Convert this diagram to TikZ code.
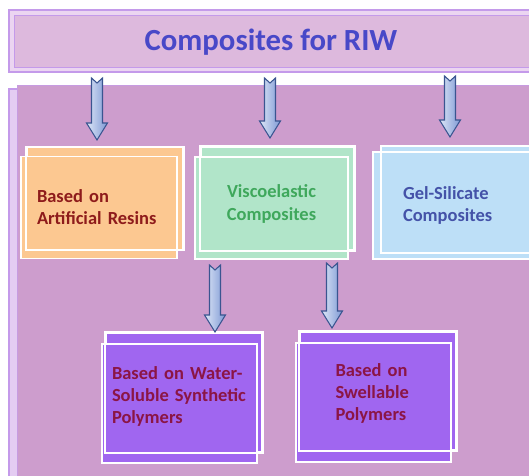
\documentclass[tikz,border=0pt]{standalone}
\usepackage{fontspec}
\setmainfont{Carlito}
\usetikzlibrary{calc}

\definecolor{titleback}{HTML}{EBD5F1}
\definecolor{titlefill}{HTML}{DDB9DD}
\definecolor{bandline}{HTML}{C49AEA}
\definecolor{panelback}{HTML}{E4CCF2}
\definecolor{panelfill}{HTML}{CD9DCD}
\definecolor{orangefill}{HTML}{FCC891}
\definecolor{greenfill}{HTML}{B1E5C9}
\definecolor{gelfill}{HTML}{BDDFF7}
\definecolor{violetfill}{HTML}{A066F0}
\definecolor{titleblue}{HTML}{4848C8}
\definecolor{resinred}{HTML}{8E1B1B}
\definecolor{viscogreen}{HTML}{3FA85C}
\definecolor{gelblue}{HTML}{4452A8}
\definecolor{polyred}{HTML}{8B1545}
\definecolor{arrowlight}{HTML}{DDE6F7}
\definecolor{arrowdark}{HTML}{7D98D4}
\definecolor{arrowline}{HTML}{3A5590}

% hollow block arrow from top coordinate #1 down to tip #2
\newcommand{\blockarrow}[2]{%
	\path[barrow] let \p1=(#1), \p2=(#2) in
		(\x1-0.11cm,\y1) -- (\x1,\y1-0.1cm) -- (\x1+0.11cm,\y1)
		-- (\x1+0.11cm,\y2+0.34cm) -- (\x1+0.21cm,\y2+0.34cm) -- (\x2,\y2)
		-- (\x1-0.21cm,\y2+0.34cm) -- (\x1-0.11cm,\y2+0.34cm) -- cycle;}

\begin{document}
\begin{tikzpicture}[x=0.02cm,y=-0.02cm]
	%\draw[help lines] (0,0) grid (529,476);
	
	\tikzstyle{cbox} = [rectangle,draw=white,line width=0.9pt,inner sep=0pt,font=\fontsize{10.5}{12.6}\selectfont\bfseries]
	\tikzstyle{bframe} = [draw=white,line width=0.9pt]
	\tikzstyle{barrow} = [draw=arrowline,line width=0.6pt,left color=arrowlight,right color=arrowdark]
	
	\path[use as bounding box,clip] (0,0) rectangle (529,476);
	\fill[white] (0,0) rectangle (529,476);
	
	% title band
	\filldraw[fill=titleback,draw=bandline,line width=0.8pt] (9,10) rectangle (540,72);
	\filldraw[fill=titlefill,draw=bandline,line width=0.5pt] (14,15) rectangle (540,67);
	\node[font=\fontsize{17.5}{20}\selectfont\bfseries,text=titleblue] (title) at (271,42) {Composites for RIW};
	
	% panel
	\filldraw[fill=panelback,draw=bandline,line width=0.6pt] (9,89) rectangle (540,480);
	\filldraw[fill=panelfill,draw=bandline!70!panelfill,line width=0.5pt] (17,85) rectangle (540,480);
	
	% first row
	\node[cbox,fill=orangefill,minimum width=3.12cm,minimum height=2.04cm] (resinsb) at (105,198.5) {};
	\node[cbox,fill=orangefill,minimum width=3.12cm,minimum height=2.04cm,text width=2.48cm,align=left,text=resinred] (resins) at (99,207.5) {Based on\\Artificial Resins};
	\draw[bframe] (resinsb.north west) rectangle (resinsb.south east);
	
	\node[cbox,fill=greenfill,minimum width=3.06cm,minimum height=2.06cm] (viscob) at (277.5,198.5) {};
	\node[cbox,fill=greenfill,minimum width=3.06cm,minimum height=2.04cm,text width=2.6cm,align=center,text depth=0.66cm,text=viscogreen] (visco) at (271.5,208) {Viscoelastic\\Composites};
	\draw[bframe] (viscob.north west) rectangle (viscob.south east);
	
	% gel box runs off the right edge
	\node[cbox,draw=none,fill=gelfill,minimum width=4cm,minimum height=2.1cm] (gelb) at (482,199.5) {};
	\node[cbox,draw=none,fill=gelfill,minimum width=4cm,minimum height=2.1cm,text width=2.84cm,align=left,text=gelblue] (gel) at (474,205.5) {Gel-Silicate\\Composites};
	\draw[bframe] (gel.north east) -- (gel.north west) -- (gel.south west) -- (gel.south east);
	\draw[bframe] (gelb.north east) -- (gelb.north west) -- (gelb.south west) -- (gelb.south east);
	
	% second row
	\node[cbox,fill=violetfill,minimum width=3.12cm,minimum height=2.38cm] (waterb) at (184,392.5) {};
	\node[cbox,fill=violetfill,minimum width=3.1cm,minimum height=2.38cm,text width=2.7cm,align=left,text depth=1.23cm,text=polyred] (water) at (179.5,403.5) {Based on Water-\\Soluble Synthetic\\Polymers};
	\draw[bframe] (waterb.north west) rectangle (waterb.south east);
	
	\node[cbox,fill=violetfill,minimum width=3.12cm,minimum height=2.36cm] (swellb) at (378,391) {};
	\node[cbox,fill=violetfill,minimum width=3.1cm,minimum height=2.38cm,text width=1.52cm,align=left,text depth=1.29cm,text=polyred] (swell) at (373.5,402.5) {Based on\\Swellable\\Polymers};
	\draw[bframe] (swellb.north west) rectangle (swellb.south east);
	
	% arrows
	\coordinate (a1top) at (97,78);
	\coordinate (a1tip) at (97,140);
	\coordinate (a2top) at (270,78);
	\coordinate (a2tip) at (270,138);
	\coordinate (a3top) at (450,76);
	\coordinate (a3tip) at (450,137);
	\coordinate (a4top) at (215,265);
	\coordinate (a4tip) at (215,332);
	\coordinate (a5top) at (332,263);
	\coordinate (a5tip) at (332,328);
	
	\blockarrow{a1top}{a1tip}
	\blockarrow{a2top}{a2tip}
	\blockarrow{a3top}{a3tip}
	\blockarrow{a4top}{a4tip}
	\blockarrow{a5top}{a5tip}

\end{tikzpicture}
\end{document}
